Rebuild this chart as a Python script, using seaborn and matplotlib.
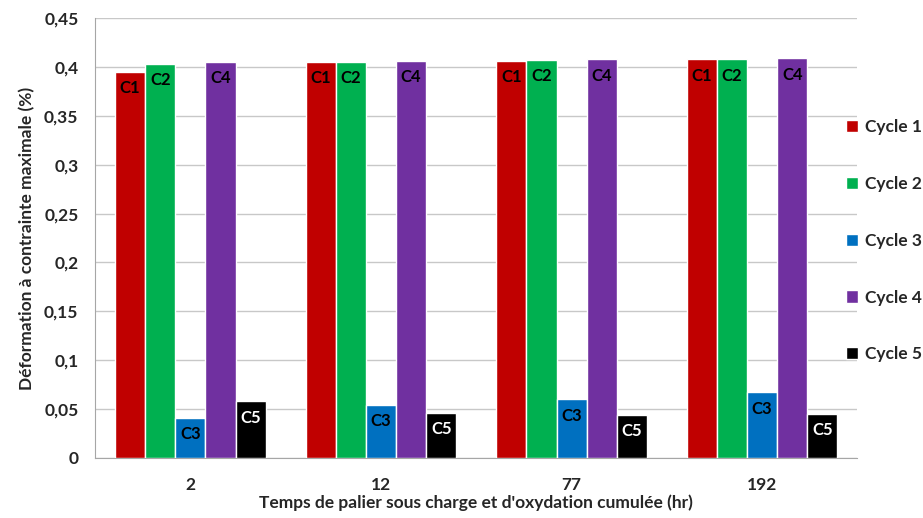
import matplotlib
matplotlib.use("Agg")
import matplotlib.pyplot as plt
import numpy as np
import pandas as pd
import seaborn as sns

# ── Data ──────────────────────────────────────────────────────────────────────
temps = ["2", "12", "77", "192"]
cycles = ["Cycle 1", "Cycle 2", "Cycle 3", "Cycle 4", "Cycle 5"]
short = ["C1", "C2", "C3", "C4", "C5"]
cycle1 = [0.395, 0.405, 0.406, 0.408]
cycle2 = [0.403, 0.405, 0.407, 0.408]
cycle3 = [0.041, 0.054, 0.060, 0.067]
cycle4 = [0.405, 0.406, 0.408, 0.409]
cycle5 = [0.058, 0.046, 0.044, 0.045]
colors = ["#C00000", "#00B050", "#0070C0", "#7030A0", "#000000"]
label_colors = ["black", "black", "black", "black", "white"]

series = [cycle1, cycle2, cycle3, cycle4, cycle5]
df = pd.DataFrame({
    "temps": np.tile(temps, len(cycles)),
    "cycle": np.repeat(cycles, len(temps)),
    "val": np.concatenate(series),
})

sns.set_style("white")
plt.rcParams["font.family"] = ["Lato", "DejaVu Sans"]
plt.rcParams["font.weight"] = "bold"

fig = plt.figure(figsize=(9.23, 5.18), dpi=100)
ax = fig.add_axes([0.103, 0.116, 0.826, 0.849])

sns.barplot(data=df, x="temps", y="val", hue="cycle", order=temps,
            hue_order=cycles, palette=colors, saturation=1, width=0.79,
            ax=ax, legend=True, zorder=3)

# bar labels inside top
for cont, lab, lc in zip(ax.containers, short, label_colors):
    for bar in cont:
        x = bar.get_x() + bar.get_width() / 2
        top = bar.get_height()
        ax.annotate(lab, (x, top), xytext=(0, -6), textcoords="offset points",
                    ha="center", va="top", fontsize=12, fontweight="bold",
                    color=lc, zorder=4)

ax.set_ylim(0, 0.45)
ax.set_xlim(-0.5, 3.5)
yt = np.arange(0, 0.451, 0.05)
ax.set_yticks(yt)
ax.set_yticklabels(["0" if v == 0 else f"{v:.2f}".rstrip("0").replace(".", ",") for v in yt])
ax.grid(axis="y", color="#c8c8c8", linewidth=1, zorder=0)
ax.set_axisbelow(True)

for s in ["top", "right"]:
    ax.spines[s].set_visible(False)
for s in ["left", "bottom"]:
    ax.spines[s].set_color("#a6a6a6")

ax.tick_params(axis="y", length=4, color="#a6a6a6", labelsize=12.5, pad=8)
ax.tick_params(axis="x", which="major", length=0, labelsize=12.5, pad=14)
ax.set_xticks([0.5, 1.5, 2.5, 3.5], minor=True)
ax.tick_params(axis="x", which="minor", length=5, color="#a6a6a6")
for t in ax.get_xticklabels() + ax.get_yticklabels():
    t.set_fontweight("bold")

ax.set_xlabel("Temps de palier sous charge et d'oxydation cumulée (hr)",
              fontsize=12.5, fontweight="bold", labelpad=1)
ax.set_ylabel("Déformation à contrainte maximale (%)", fontsize=12.5,
              fontweight="bold", labelpad=6)

ax.legend(loc="upper left", bbox_to_anchor=(0.9, 0.8),
          bbox_transform=fig.transFigure, frameon=False,
          handlelength=0.7, handleheight=0.7, handletextpad=0.4,
          labelspacing=2.35, prop={"weight": "bold", "size": 12.5})

fig.savefig("out.png", dpi=100)
